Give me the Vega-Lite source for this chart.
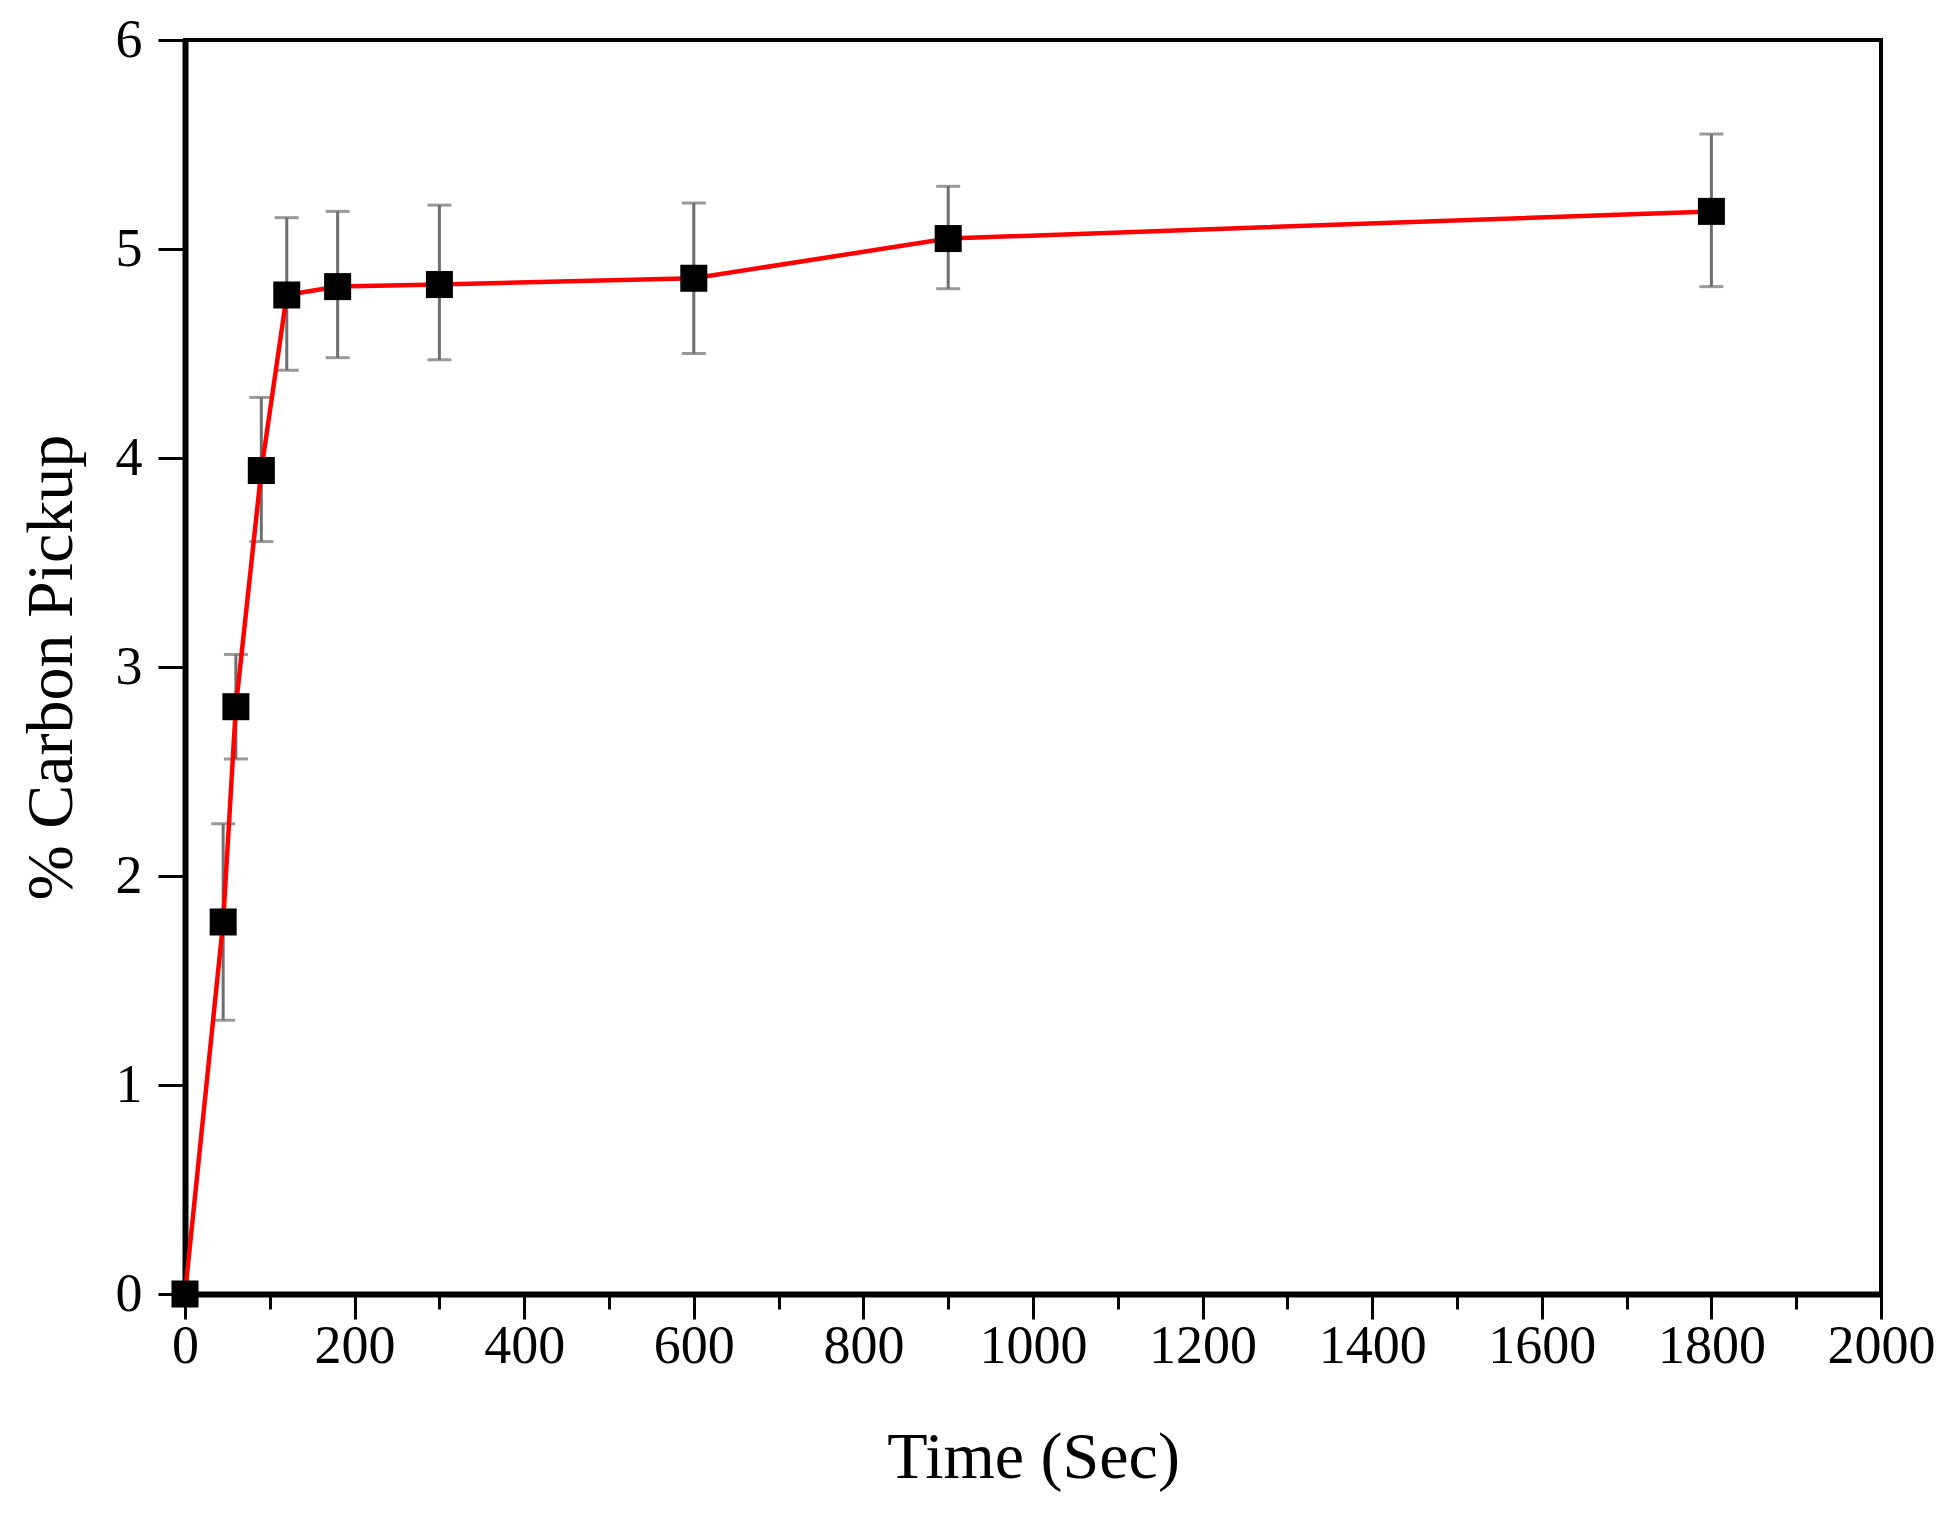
{
  "$schema": "https://vega.github.io/schema/vega-lite/v6.json",
  "width": 1696,
  "height": 1254,
  "autosize": {"type": "none"},
  "padding": {"left": 185, "top": 40, "right": 75, "bottom": 221},
  "background": "white",
  "data": {
    "values": [
      {"t": 0, "c": 0},
      {"t": 45, "c": 1.78, "lo": 1.31, "hi": 2.25},
      {"t": 60, "c": 2.81, "lo": 2.56, "hi": 3.06},
      {"t": 90, "c": 3.94, "lo": 3.60, "hi": 4.29},
      {"t": 120, "c": 4.78, "lo": 4.42, "hi": 5.15},
      {"t": 180, "c": 4.82, "lo": 4.48, "hi": 5.18},
      {"t": 300, "c": 4.83, "lo": 4.47, "hi": 5.21},
      {"t": 600, "c": 4.86, "lo": 4.50, "hi": 5.22},
      {"t": 900, "c": 5.05, "lo": 4.81, "hi": 5.30},
      {"t": 1800, "c": 5.18, "lo": 4.82, "hi": 5.55}
    ]
  },
  "encoding": {
    "x": {
      "field": "t",
      "type": "quantitative",
      "scale": {"domain": [0, 2000], "nice": false},
      "axis": {
        "title": "Time (Sec)",
        "values": [0, 100, 200, 300, 400, 500, 600, 700, 800, 900, 1000, 1100, 1200, 1300, 1400, 1500, 1600, 1700, 1800, 1900, 2000],
        "labelExpr": "datum.value % 200 === 0 ? datum.label : ''",
        "format": "d",
        "labelFlush": false,
        "labelOverlap": false,
        "tickSize": {"condition": {"test": "datum.value % 200 === 0", "value": 25}, "value": 15},
        "labelPadding": 0,
        "titlePadding": 52
      }
    },
    "y": {
      "field": "c",
      "type": "quantitative",
      "scale": {"domain": [0, 6], "nice": false},
      "axis": {
        "title": "% Carbon Pickup",
        "values": [0, 0.5, 1, 1.5, 2, 2.5, 3, 3.5, 4, 4.5, 5, 5.5, 6],
        "labelExpr": "datum.value % 1 === 0 ? datum.label : ''",
        "format": "d",
        "labelFlush": false,
        "labelOverlap": false,
        "tickSize": {"condition": {"test": "datum.value % 1 === 0", "value": 27}, "value": 15},
        "labelPadding": 16,
        "titlePadding": 30
      }
    }
  },
  "layer": [
    {
      "mark": {"type": "rule", "color": "#6e6e6e", "strokeWidth": 3},
      "encoding": {"y": {"field": "lo", "type": "quantitative"}, "y2": {"field": "hi"}}
    },
    {
      "mark": {"type": "tick", "orient": "horizontal", "color": "#6e6e6e", "thickness": 3, "size": 24},
      "encoding": {"y": {"field": "lo", "type": "quantitative"}}
    },
    {
      "mark": {"type": "tick", "orient": "horizontal", "color": "#6e6e6e", "thickness": 3, "size": 24},
      "encoding": {"y": {"field": "hi", "type": "quantitative"}}
    },
    {
      "mark": {"type": "line", "color": "#ff0000", "strokeWidth": 4.5}
    },
    {
      "mark": {"type": "point", "shape": "square", "filled": true, "color": "black", "opacity": 1, "size": 730}
    }
  ],
  "config": {
    "view": {"stroke": "black", "strokeWidth": 4},
    "axis": {
      "grid": false,
      "domainColor": "black",
      "domainWidth": 6,
      "tickColor": "black",
      "tickWidth": 3,
      "labelFont": "Liberation Serif",
      "labelFontSize": 54,
      "labelColor": "black",
      "titleFont": "Liberation Serif",
      "titleFontSize": 66,
      "titleFontWeight": "normal",
      "titleColor": "black"
    }
  }
}
